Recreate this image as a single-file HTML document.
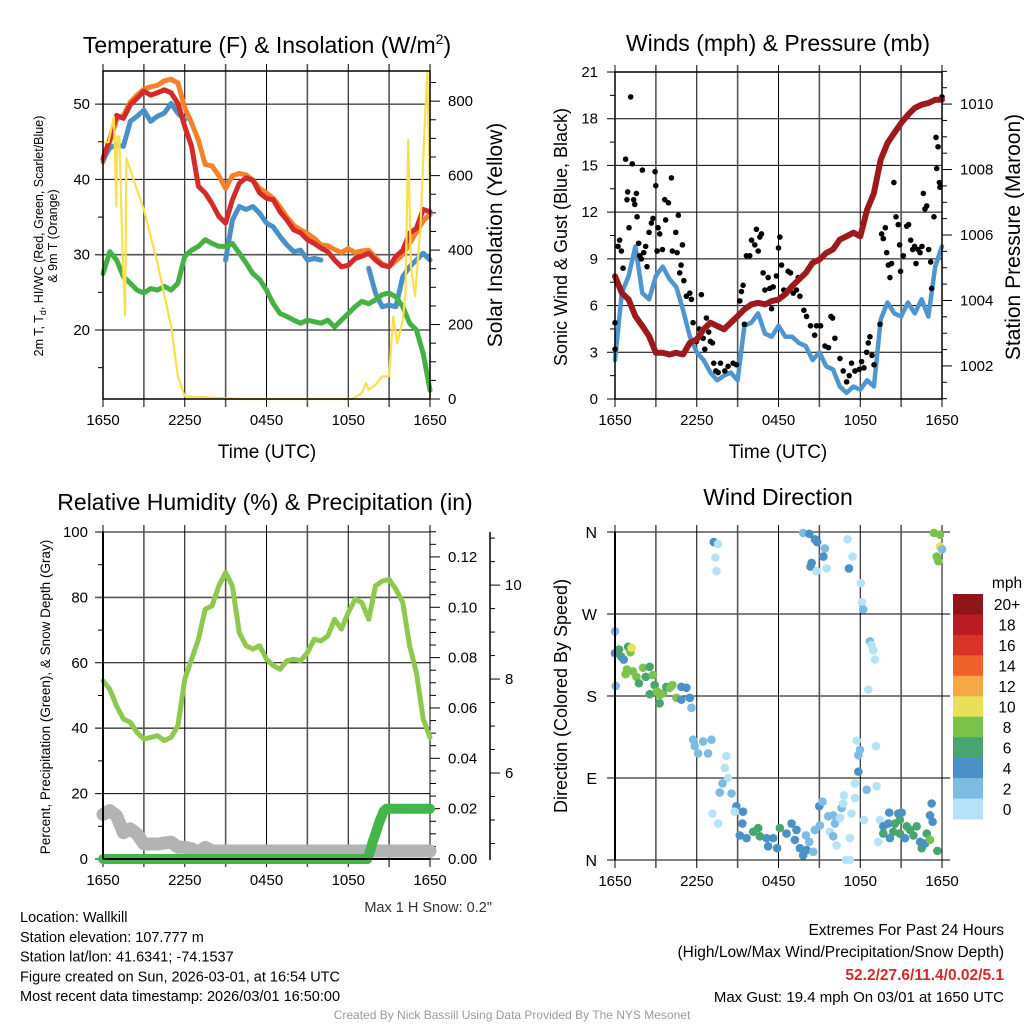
<!DOCTYPE html>
<html><head><meta charset="utf-8"><style>
html,body{margin:0;padding:0;background:#fff;}
#wrap{position:relative;width:1024px;height:1024px;overflow:hidden;font-family:"Liberation Sans",sans-serif;}
svg text{font-family:"Liberation Sans",sans-serif;}
</style></head><body>
<div id="wrap">
<svg id="svg" width="1024" height="1024" viewBox="0 0 1024 1024"></svg>
</div>
<script>
// ---------- DATA ----------
var timeLabels = ["1650","2250","0450","1050","1650"];
var halfHours = [0,0.5,1,1.5,2,2.5,3,3.5,4,4.5,5,5.5,6,6.5,7,7.5,8,8.5,9,9.5,10,10.5,11,11.5,12,12.5,13,13.5,14,14.5,15,15.5,16,16.5,17,17.5,18,18.5,19,19.5,20,20.5,21,21.5,22,22.5,23,23.5,24];
var tempRed = [42.8,45.3,48.5,48.1,49.9,50.8,51.7,51.2,51.5,51.9,51.5,50.1,47.0,44.4,39.1,38.2,36.8,35.1,34.2,37.3,39.5,40.2,39.9,38.2,37.5,37.3,35.7,34.6,33.3,32.9,32.0,31.5,30.9,30.4,29.3,28.4,28.6,29.5,29.8,30.2,29.3,28.6,28.4,29.8,30.6,32.9,33.5,36.0,35.7];
var temp9m = [42.3,45.0,48.0,48.5,50.3,51.2,52.0,52.3,52.5,53.1,53.3,52.8,49.5,47.5,45.2,42.0,41.8,40.5,38.8,40.5,40.8,40.6,39.9,38.8,38.2,37.5,36.3,35.0,33.9,33.3,32.8,32.2,31.3,31.2,30.7,30.3,30.8,30.3,30.5,30.6,29.6,28.8,28.4,29.2,30.0,31.5,33.0,34.5,35.3];
var tempHIWC = [42.6,44.2,44.6,44.4,47.7,48.4,49.2,47.7,48.4,48.8,50.1,48.8,47.9,null,null,null,null,null,29.3,34.6,36.4,36.0,36.4,35.5,34.2,33.7,32.4,31.3,30.4,30.6,29.3,29.5,29.3,null,null,null,null,null,null,28.2,24.9,23.1,23.3,23.1,27.1,28.4,29.3,30.2,29.3];
var dewpoint = [27.5,30.4,29.3,27.1,26.2,25.3,24.9,25.5,25.3,25.8,25.3,26.2,29.8,30.6,31.1,32.0,31.5,31.1,31.1,31.5,30.2,28.9,27.5,26.7,25.3,23.5,22.2,21.8,21.3,20.9,21.3,21.1,20.9,21.3,20.4,21.3,22.2,23.1,23.8,23.5,24.0,24.7,24.9,24.4,23.1,20.9,20.0,16.9,12.0];
var solarHours = [0,0.2,0.4,0.8,0.98,1.05,1.2,1.45,1.62,1.72,2,3,4,5,5.5,6,10,18.3,19,19.3,19.5,20,20.5,21,21.3,21.6,22,22.2,22.4,22.6,22.9,23.3,23.6,23.8,24];
var solarValues = [687,690,690,758,517,705,705,374,226,647,616,508,365,195,61,7,0,0,16,43,25,38,61,61,222,150,213,285,696,356,276,464,732,875,553];
var windSpeed = [2.5,6.8,7.9,9.8,6.8,6.4,7.9,8.5,7.7,7.2,5.7,4.0,3.0,2.5,1.7,1.2,1.5,1.7,1.2,4.7,4.9,5.5,4.2,4.0,4.7,4.0,4.0,3.6,3.4,2.5,3.0,2.1,1.9,0.8,0.4,0.8,0.6,1.2,0.8,5.1,6.2,5.5,5.3,6.2,5.5,6.4,5.3,8.5,9.8];
var pressure = [1004.74,1004.23,1004.03,1003.52,1003.22,1002.91,1002.40,1002.40,1002.35,1002.40,1002.35,1002.71,1002.81,1003.12,1003.32,1003.22,1003.12,1003.32,1003.52,1003.73,1003.88,1003.93,1003.88,1003.98,1004.03,1004.19,1004.44,1004.64,1004.84,1005.15,1005.25,1005.45,1005.56,1005.86,1005.96,1006.07,1005.96,1006.77,1007.28,1008.30,1008.81,1009.12,1009.42,1009.67,1009.88,1009.98,1010.03,1010.13,1010.13];
var gustHours = [0,0,0.22,0.34,0.47,0.59,0.78,0.88,0.93,1.03,1.15,1.27,1.37,1.45,1.57,1.62,1.74,1.81,1.93,2.01,2.11,2.25,2.35,2.5,2.67,2.79,2.94,2.99,3.09,3.16,3.28,3.48,3.65,3.72,3.92,4.14,4.21,4.46,4.56,4.65,4.75,4.85,4.95,5.05,5.24,5.49,5.61,5.73,5.98,6.17,6.34,6.47,6.59,6.71,6.88,7.0,7.15,7.25,7.4,7.57,7.74,8.06,8.3,8.67,8.91,9.16,9.28,9.4,9.5,9.65,9.89,10.02,10.26,10.38,10.51,10.63,10.75,10.87,11.0,11.24,11.36,11.49,11.61,11.85,12.0,12.1,12.22,12.39,12.71,12.88,13.08,13.32,13.45,13.57,13.86,14.06,14.35,14.65,14.79,15.09,15.41,15.67,15.85,15.97,16.14,16.51,16.75,17.0,17.19,17.36,17.61,17.93,18.1,18.27,18.47,18.59,18.71,18.86,19.01,19.45,19.57,19.69,19.84,19.94,20.06,20.18,20.3,20.47,20.62,20.79,20.89,20.96,21.16,21.41,21.55,21.7,21.85,21.99,22.09,22.24,22.39,22.53,22.63,22.75,22.88,23.02,23.17,23.24,23.41,23.56,23.61,23.71,23.81,23.85,24.0];
var gustValues = [4.9,3.2,9.8,10.2,9.5,8.4,15.4,12.8,13.3,11.0,19.4,15.1,12.8,12.5,13.2,11.7,10.0,9.2,9.0,14.7,9.4,9.8,8.5,10.7,11.3,11.6,14.6,13.7,9.5,11.0,10.6,9.6,12.8,11.5,12.6,14.2,9.5,10.7,9.4,11.8,8.1,8.6,9.9,7.6,6.6,6.8,6.4,4.9,3.7,4.5,6.7,3.9,3.2,5.2,4.3,3.7,3.6,2.3,1.8,1.7,2.3,1.8,2.1,2.3,2.2,6.3,6.9,7.3,4.8,9.2,9.2,10.2,9.9,10.9,9.5,10.4,10.6,8.1,7.0,7.8,7.1,5.8,7.2,7.9,9.7,10.4,8.6,7.0,8.2,8.1,6.8,7.0,7.8,6.6,5.7,5.3,4.7,4.1,4.7,4.7,3.4,3.3,5.3,5.2,3.9,2.6,1.8,1.1,1.5,2.3,1.8,1.9,2.4,2.0,3.0,3.6,4.0,2.8,2.2,4.8,10.6,10.3,11.0,9.4,8.6,7.8,8.7,13.9,11.7,11.2,9.9,8.2,9.2,11.1,11.2,10.2,9.6,9.8,8.7,9.6,9.4,9.8,13.2,12.2,12.4,9.6,8.8,7.1,11.7,16.8,14.8,16.2,13.9,13.6,19.4];
var rhValues = [54.5,51.9,46.8,42.8,41.8,38.7,36.7,37.2,37.7,36.2,37.2,40.7,55.0,61.1,67.2,76.4,77.4,83.5,87.6,83.5,69.2,65.2,64.2,65.2,61.1,59.1,58.0,60.6,61.1,60.6,63.1,67.2,66.7,68.2,73.3,70.3,75.4,79.4,78.4,73.3,83.5,85.0,85.5,82.5,78.4,65.2,57.0,42.8,37.2];
var snowHours = [0,0.5,1,1.5,2,2.5,3,4,5,5.5,6,6.5,7,7.5,8,24];
var snowDepth = [5.12,5.20,5.09,4.73,4.81,4.70,4.49,4.49,4.53,4.42,4.42,4.39,4.31,4.42,4.34,4.34];
var precipHours = [0,19.4,19.6,19.8,20.0,20.3,20.6,20.8,24];
var precipValues = [0,0,0.003,0.007,0.01,0.015,0.019,0.02,0.02];
var dirHours = [0,0,0.05,0.3,0.47,0.64,0.96,1.13,1.22,0.78,0.88,1.32,1.57,1.76,2.06,2.25,2.55,2.79,2.91,2.55,3.09,3.28,3.53,3.77,4.02,4.21,4.51,3.28,4.87,5.24,4.87,5.49,5.61,5.73,5.85,6.10,6.47,6.83,7.08,7.25,7.57,7.37,7.45,8.18,8.06,8.30,7.89,7.69,8.55,8.91,8.79,7.15,7.57,9.40,9.35,9.16,9.65,10.14,10.51,10.63,11.12,11.24,11.61,11.90,12.10,12.59,12.96,13.20,13.32,13.57,13.81,14.06,14.55,14.01,14.26,14.67,15.04,14.99,15.23,15.65,16.02,15.77,16.02,16.14,16.26,16.51,16.63,16.75,16.80,17.36,17.24,16.95,17.24,17.61,17.61,17.86,17.86,17.98,17.74,18.47,19.20,19.15,18.27,19.32,19.45,19.69,19.69,20.13,20.06,20.18,20.43,20.55,20.79,20.91,21.04,20.91,21.28,21.41,21.65,21.90,22.14,22.39,22.51,22.88,22.75,23.12,23.24,23.31,23.12,23.66,23.41,23.85,23.61,23.73,23.85,24.0,13.81,14.26,14.67,14.84,15.41,15.29,14.43,14.35,14.79,15.53,17.07,17.44,17.17,18.05,18.12,18.22,18.71,18.83,18.96,19.08,18.59];
var dirDegrees = [251,227,191,231,223,220,234,228,233,204,209,207,201,194,211,201,212,203,192,182,185,181,183,190,189,192,178,172,190,189,176,178,167,132,125,117,130,117,132,349,347,332,317,114,101,90,84,74,73,59,53,51,40,53,40,27,24,31,35,26,24,15,24,13,35,29,40,22,33,13,5,11,9,27,20,33,38,59,64,48,49,31,26,40,16,46,57,62,71,51,24,0,0,84,68,97,115,121,131,77,81,125,44,20,44,37,29,52,40,24,31,40,51,44,52,29,24,37,33,27,37,20,13,29,18,49,62,42,22,10,359,357,333,328,344,341,359,358,352,349,342,333,326,322,317,320,352,333,320,304,283,275,240,236,230,220,187];
var dirSpeeds = [3,5,3,7,7,5,7,9,11,9,9,9,9,7,9,7,7,9,7,7,9,9,9,7,9,9,9,7,5,5,5,5,3,3,3,3,3,3,3,5,1,1,1,1,1,1,3,3,3,5,1,1,1,5,5,5,5,7,7,7,5,5,5,5,7,5,5,5,5,5,5,5,3,3,3,3,3,5,3,3,3,1,3,3,1,1,3,1,1,1,1,1,1,1,1,5,3,3,1,3,1,1,1,1,1,5,7,5,5,5,7,7,5,7,5,7,5,7,7,7,7,5,7,7,5,5,5,5,9,7,9,9,9,9,11,3,3,5,5,5,3,5,5,5,1,1,1,1,5,1,1,3,3,1,1,1,1];
var speedBins = ["20+","18","16","14","12","10","8","6","4","2","0"];
var speedColors = ["#8e1518","#bb1c23","#dc3329","#ef6229","#f5a846","#e7e058","#7bc24a","#48a570","#4b90c7","#7dbbe3","#b6e2f8"];

// ---------- HELPERS ----------
var NS="http://www.w3.org/2000/svg";
var svg=document.getElementById('svg');
function mk(tag,attrs,parent){var e=document.createElementNS(NS,tag);for(var k in attrs)e.setAttribute(k,attrs[k]);(parent||svg).appendChild(e);return e;}
function lin(d0,d1,r0,r1){return function(v){return r0+(v-d0)*(r1-r0)/(d1-d0);};}
function txt(x,y,s,size,anchor,extra){var t=mk('text',{x:x,y:y,'font-size':size,'text-anchor':anchor||'middle',fill:'#000'});for(var k in (extra||{}))t.setAttribute(k,extra[k]);t.textContent=s;return t;}
function pathD(xs,ys,sx,sy){var d='',pen=false;for(var i=0;i<xs.length;i++){if(ys[i]===null||ys[i]===undefined){pen=false;continue;}d+=(pen?'L':'M')+sx(xs[i]).toFixed(1)+','+sy(ys[i]).toFixed(1);pen=true;}return d;}
function seg(x1,y1,x2,y2,c,w){return mk('line',{x1:x1,y1:y1,x2:x2,y2:y2,stroke:c,'stroke-width':w});}
function timeAxis(g,x0,x1,top,bot,sx){
  for(var h=0;h<=24;h+=3){var x=sx(h);var major=(h%6===0);
    var l=seg(x,top-7,x,bot+8,major?'#000':'#555',major?1:1.6);g.appendChild(l);}
  for(var i=0;i<timeLabels.length;i++){var t=txt(sx(i*6),bot+26,timeLabels[i],15);g.appendChild(t);}
}

// ======= PANEL 1: Temperature =======
var g1=mk('g',{});


var sx1=lin(0,24,103,430), sy1=lin(10.84,54.4,399,71), ss1=lin(0,881,399,71);
[20,30,40,50].forEach(function(v){g1.appendChild(seg(95,sy1(v),430,sy1(v),v===30?'#555':'#000',v===30?1.6:1));var t=txt(90,sy1(v)+5,String(v),15,'end');g1.appendChild(t);});
[15,25,35,45].forEach(function(v){g1.appendChild(seg(98,sy1(v),103,sy1(v),'#000',1));});
timeAxis(g1,103,430,71,399,sx1);
for(var w=0;w<=850;w+=50){var maj=w%200===0;g1.appendChild(seg(430,ss1(w),maj?440:436,ss1(w),'#000',1));if(maj){g1.appendChild(txt(448,ss1(w)+5,String(w),15,'start'));}}
var p;
p=mk('path',{d:pathD(halfHours,temp9m,sx1,sy1),fill:'none',stroke:'#f5822a','stroke-width':5,'stroke-linejoin':'round','stroke-linecap':'round'},g1);


p=mk('path',{d:pathD(halfHours,tempHIWC,sx1,sy1),fill:'none',stroke:'#4a90c8','stroke-width':5,'stroke-linejoin':'round','stroke-linecap':'round'},g1);


p=mk('path',{d:pathD(halfHours,tempRed,sx1,sy1),fill:'none',stroke:'#d42a2a','stroke-width':5,'stroke-linejoin':'round','stroke-linecap':'round'},g1);


p=mk('path',{d:pathD(halfHours,dewpoint,sx1,sy1),fill:'none',stroke:'#45b043','stroke-width':5,'stroke-linejoin':'round','stroke-linecap':'round'},g1);


p=mk('path',{d:pathD(solarHours,solarValues,sx1,ss1),fill:'none',stroke:'#f9e04b','stroke-width':2.2,'stroke-linejoin':'round'},g1);


g1.appendChild(mk('rect',{x:103,y:71,width:327,height:328,fill:'none',stroke:'#000','stroke-width':1.5}));
var tt=mk('text',{x:267,y:53,'font-size':23,'text-anchor':'middle'},g1);
tt.innerHTML='Temperature (F) &amp; Insolation (W/m<tspan dy="-9" font-size="14">2</tspan><tspan dy="9">)</tspan>';


var yl=mk('text',{x:0,y:0,'font-size':12.5,'text-anchor':'middle',transform:'translate(43,236) rotate(-90)'},g1);
yl.innerHTML='2m T, T<tspan dy="3" font-size="9">d</tspan><tspan dy="-3">, HI/WC (Red, Green, Scarlet/Blue)</tspan>';


var yl2=txt(0,0,'& 9m T (Orange)',12.5,'middle',{transform:'translate(57,236) rotate(-90)'});g1.appendChild(yl2);
var yr=txt(0,0,'Solar Insolation (Yellow)',21,'middle',{transform:'translate(502,235) rotate(-90)'});g1.appendChild(yr);

var xt=txt(267,458,'Time (UTC)',19);g1.appendChild(xt);


// ======= PANEL 2: Winds =======
var g2=mk('g',{});


var sx2=lin(0,24,615,942), sy2=lin(0,21,399,72), sp2=lin(1000.99,1010.98,399,72);
for(var v=0;v<=21;v+=3){g2.appendChild(seg(607,sy2(v),942,sy2(v),'#000',1));g2.appendChild(txt(598,sy2(v)+5,String(v),15,'end'));}
for(var v=1.5;v<21;v+=3){g2.appendChild(seg(610,sy2(v),615,sy2(v),'#000',1));}
timeAxis(g2,615,942,72,399,sx2);
for(var m=1001;m<=1011;m+=0.5){var maj2=(m%2===0);g2.appendChild(seg(942,sp2(m),maj2?952:947,sp2(m),'#000',1));if(maj2)g2.appendChild(txt(960,sp2(m)+5,String(m),15,'start'));}
p=mk('path',{d:pathD(halfHours,windSpeed,sx2,sy2),fill:'none',stroke:'#4f95d0','stroke-width':4.5,'stroke-linejoin':'round','stroke-linecap':'round'},g2);


for(var i=0;i<gustHours.length;i++){
  var c=mk('circle',{cx:sx2(gustHours[i]),cy:sy2(gustValues[i]),r:2.8,fill:'#000'},g2);
  
  
}
p=mk('path',{d:pathD(halfHours,pressure,sx2,sp2),fill:'none',stroke:'#9c1a1c','stroke-width':6,'stroke-linejoin':'round','stroke-linecap':'round'},g2);


g2.appendChild(mk('rect',{x:615,y:72,width:327,height:327,fill:'none',stroke:'#000','stroke-width':1.5}));
var t2=txt(778,51,'Winds (mph) & Pressure (mb)',23);g2.appendChild(t2);

var y2l=txt(0,0,'Sonic Wind & Gust (Blue, Black)',18,'middle',{transform:'translate(567,237) rotate(-90)'});g2.appendChild(y2l);

var y2r=txt(0,0,'Station Pressure (Maroon)',21,'middle',{transform:'translate(1020,237) rotate(-90)'});g2.appendChild(y2r);

var x2t=txt(778,458,'Time (UTC)',19);g2.appendChild(x2t);


// ======= PANEL 3: RH & Precip =======
var g3=mk('g',{});


var sx3=lin(0,24,103,430), sy3=lin(0,100,859,532), spr=lin(0,0.1299,859,532), ssn=lin(4.17,11.13,859,532);
[0,20,40,60,80,100].forEach(function(v){var grey=(v===40||v===80);g3.appendChild(seg(95,sy3(v),430,sy3(v),grey?'#555':'#000',grey?1.6:1));g3.appendChild(txt(88,sy3(v)+5,String(v),15,'end'));});
[10,30,50,70,90].forEach(function(v){g3.appendChild(seg(98,sy3(v),103,sy3(v),'#000',1));});
timeAxis(g3,103,430,532,859,sx3);
for(var k=0;k<=26;k++){var pv=k*0.005;var maj3=(k%4===0);g3.appendChild(seg(430,spr(pv),maj3?440:436,spr(pv),'#000',1));if(maj3)g3.appendChild(txt(448,spr(pv)+5,pv.toFixed(2),15,'start'));}
g3.appendChild(seg(490,532,490,860,'#000',1.5));
for(var s=4.5;s<=11;s+=0.5){var maj4=(s%2===0);g3.appendChild(seg(490,ssn(s),maj4?500:495,ssn(s),'#000',1));if(maj4)g3.appendChild(txt(505,ssn(s)+5,String(s),15,'start'));}
p=mk('path',{d:pathD(snowHours,snowDepth,sx3,ssn),fill:'none',stroke:'#b3b3b3','stroke-width':13,'stroke-linejoin':'round','stroke-linecap':'round'},g3);


p=mk('path',{d:pathD(precipHours,precipValues,sx3,spr),fill:'none',stroke:'#44b649','stroke-width':10,'stroke-linejoin':'round','stroke-linecap':'round'},g3);


p=mk('path',{d:pathD(halfHours,rhValues,sx3,sy3),fill:'none',stroke:'#8fc84f','stroke-width':5,'stroke-linejoin':'round','stroke-linecap':'round'},g3);


g3.appendChild(seg(103,532,103,859,'#000',2));
g3.appendChild(seg(103,859,430,859,'#000',2));
var t3=txt(265,510,'Relative Humidity (%) & Precipitation (in)',23);g3.appendChild(t3);

var y3l=txt(0,0,'Percent, Precipitation (Green), & Snow Depth (Gray)',13.5,'middle',{transform:'translate(50,697) rotate(-90)'});g3.appendChild(y3l);

var sn=txt(492,912,'Max 1 H Snow: 0.2"',14.5,'end',{fill:'#333'});g3.appendChild(sn);


// ======= PANEL 4: Wind Direction =======
var g4=mk('g',{});


var sx4=lin(0,24,615,942), sy4=lin(0,360,860,532);
var dirLabels=["N","E","S","W","N"];
for(var q=0;q<5;q++){g4.appendChild(seg(607,sy4(q*90),950,sy4(q*90),'#000',1));g4.appendChild(txt(597,sy4(q*90)+6,dirLabels[q],16,'end'));}
timeAxis(g4,615,942,532,860,sx4);
function speedColor(s){if(s===undefined)return speedColors[10];var idx=10-Math.min(10,Math.floor(s/2));return speedColors[idx];}
for(var i=0;i<dirHours.length;i++){
  var d=mk('circle',{cx:sx4(dirHours[i]),cy:sy4(dirDegrees[i]),r:4.3,fill:speedColor(dirSpeeds[i])},g4);
  
  
}
g4.appendChild(seg(615,532,615,860,'#000',2));
var t4=txt(778,505,'Wind Direction',23);g4.appendChild(t4);

var y4l=txt(0,0,'Direction (Colored By Speed)',18,'middle',{transform:'translate(567,696) rotate(-90)'});g4.appendChild(y4l);

// colorbar
var cb=mk('g',{},g4);


var boxH=(819-594)/speedBins.length;
for(var b=0;b<speedBins.length;b++){
  var r=mk('rect',{x:953,y:594+b*boxH,width:30,height:boxH+0.5,fill:speedColors[b]},cb);
  
  
  var lt=txt(1007,594+b*boxH+boxH/2+6,speedBins[b],15.5);cb.appendChild(lt);
  
  
}
var mph=txt(1007,588,'mph',15.5);cb.appendChild(mph);


// ======= FOOTER =======
var info=["Location: Wallkill","Station elevation: 107.777 m","Station lat/lon: 41.6341; -74.1537","Figure created on Sun, 2026-03-01, at 16:54 UTC","Most recent data timestamp: 2026/03/01 16:50:00"];
for(var i=0;i<info.length;i++){var it=txt(20,922+i*19.8,info[i],14.5,'start');
  
  }
var e1=txt(1004,935,'Extremes For Past 24 Hours',15.5,'end');

var e2=txt(1004,957,'(High/Low/Max Wind/Precipitation/Snow Depth)',15.5,'end');

var e3=txt(1004,980,'52.2/27.6/11.4/0.02/5.1',15.5,'end',{fill:'#d42a2a','font-weight':'bold'});

var e4=txt(1004,1002,'Max Gust: 19.4 mph On 03/01 at 1650 UTC',15,'end');

var cr=txt(512,1019,'Created By Nick Bassill Using Data Provided By The NYS Mesonet',12,'middle',{fill:'#999'});


</script>
</body></html>
